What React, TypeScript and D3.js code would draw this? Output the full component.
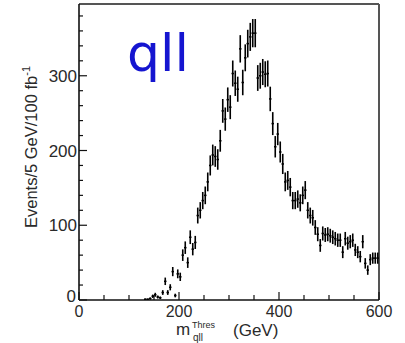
import React from "react";
import * as d3 from "d3";

const binStarts = [
  130, 135, 140, 145, 150, 155, 160, 165, 170, 175, 180, 185, 190, 195,
  200, 205, 210, 215, 220, 225, 230, 235, 240, 245, 250, 255, 260, 265,
  270, 275, 280, 285, 290, 295, 300, 305, 310, 315, 320, 325, 330, 335,
  340, 345, 350, 355, 360, 365, 370, 375, 380, 385, 390, 395, 400, 405,
  410, 415, 420, 425, 430, 435, 440, 445, 450, 455, 460, 465, 470, 475,
  480, 485, 490, 495, 500, 505, 510, 515, 520, 525, 530, 535, 540, 545,
  550, 555, 560, 565, 570, 575, 580, 585, 590, 595,
];
const counts = [
  1, 1, 2, 5, 7, 4, 3, 10, 25, 10, 17, 38, 6, 35,
  31, 60, 70, 50, 84, 68, 77, 113, 120, 133, 140, 158, 180, 194,
  192, 188, 213, 253, 242, 268, 258, 303, 290, 282, 336, 291, 324, 343,
  352, 357, 357, 297, 300, 305, 302, 303, 269, 236, 205, 222, 198, 182,
  158, 160, 151, 133, 133, 135, 130, 140, 147, 120, 113, 110, 97, 88,
  73, 89, 87, 88, 86, 84, 82, 80, 80, 64, 82, 76, 78, 80,
  67, 64, 58, 78, 49, 40, 54, 56, 56, 56,
];
const binWidth = 5;
const xTicksMajor = [0, 200, 400, 600];
const yTicksMajor = [0, 100, 200, 300];

export default function App() {
  const W = 405, H = 343;
  const x = d3.scaleLinear().domain([0, 600]).range([79, 379]);
  const y = d3.scaleLinear().domain([0, 396]).range([300, 4]);
  const xMinor = d3.range(0, 601, 50);
  const yMinor = d3.range(0, 396, 20);
  const font = "'Liberation Sans', Arial, sans-serif";
  const textColor = "#2a2a2a";
  return (
    <svg width={W} height={H} style={{ position: "absolute", left: 0, top: 0, background: "#fff" }}>
      <rect x={0} y={0} width={W} height={H} fill="#fff" />
      {/* frame */}
      <line x1={x(0)} x2={x(600)} y1={y(396)} y2={y(396)} stroke="#555" strokeWidth={2} />
      <line x1={x(600)} x2={x(600)} y1={y(396)} y2={y(0)} stroke="#555" strokeWidth={2} />
      <line x1={x(0)} x2={x(600)} y1={y(0)} y2={y(0)} stroke="#111" strokeWidth={1.6} />
      <line x1={x(0)} x2={x(0)} y1={y(396)} y2={y(0)} stroke="#111" strokeWidth={1.6} />
      {/* ticks */}
      {yMinor.map((v) => (
        <line key={"ym" + v} x1={x(0)} x2={x(0) + (v % 100 === 0 ? 8 : 4)} y1={y(v)} y2={y(v)} stroke="#111" strokeWidth={1.2} />
      ))}
      {xMinor.map((v) => (
        <line key={"xm" + v} x1={x(v)} x2={x(v)} y1={y(0)} y2={y(0) - (v % 200 === 0 ? 8 : 5)} stroke="#111" strokeWidth={1.2} />
      ))}
      {yTicksMajor.map((v) => (
        <text key={"yl" + v} x={v === 0 ? 76 : 77} y={y(v) + (v === 0 ? 2 : 6)} textAnchor="end" fontFamily={font} fontSize={17} fill={textColor}>
          {v}
        </text>
      ))}
      {xTicksMajor.map((v) => (
        <text key={"xl" + v} x={x(v)} y={317} textAnchor="middle" fontFamily={font} fontSize={16} fill={textColor}>
          {v}
        </text>
      ))}
      {/* y axis title */}
      <text transform={`translate(37,147) rotate(-90)`} textAnchor="middle" fontFamily={font} fontSize={16.5} fill={textColor}>
        Events/5 GeV/100 fb
        <tspan dy={-7} fontSize={11}>-1</tspan>
      </text>
      {/* x axis title */}
      <text x={176} y={335} fontFamily={font} fontSize={17} fill={textColor}>m</text>
      <text x={192} y={328} fontFamily={font} fontSize={9} fill={textColor}>Thres</text>
      <text x={193} y={341} fontFamily={font} fontSize={10} fill={textColor}>qll</text>
      <text x={233} y={336} fontFamily={font} fontSize={17} fill={textColor}>(GeV)</text>
      {/* label */}
      <text x={127} y={71} fontFamily="'DejaVu Sans', sans-serif" fontSize={52} fill="#1515d0">qll</text>
      {/* data */}
      {binStarts.map((b, i) => {
        const v = counts[i];
        const e = Math.sqrt(v);
        const cx = x(b + binWidth / 2);
        return (
          <g key={"d" + b}>
            <line x1={cx} x2={cx} y1={y(Math.max(0, v - e))} y2={y(v + e)} stroke="#000" strokeWidth={1.6} />
            <line x1={x(b)} x2={x(b + binWidth)} y1={y(v)} y2={y(v)} stroke="#000" strokeWidth={1.5} />
          </g>
        );
      })}
    </svg>
  );
}
